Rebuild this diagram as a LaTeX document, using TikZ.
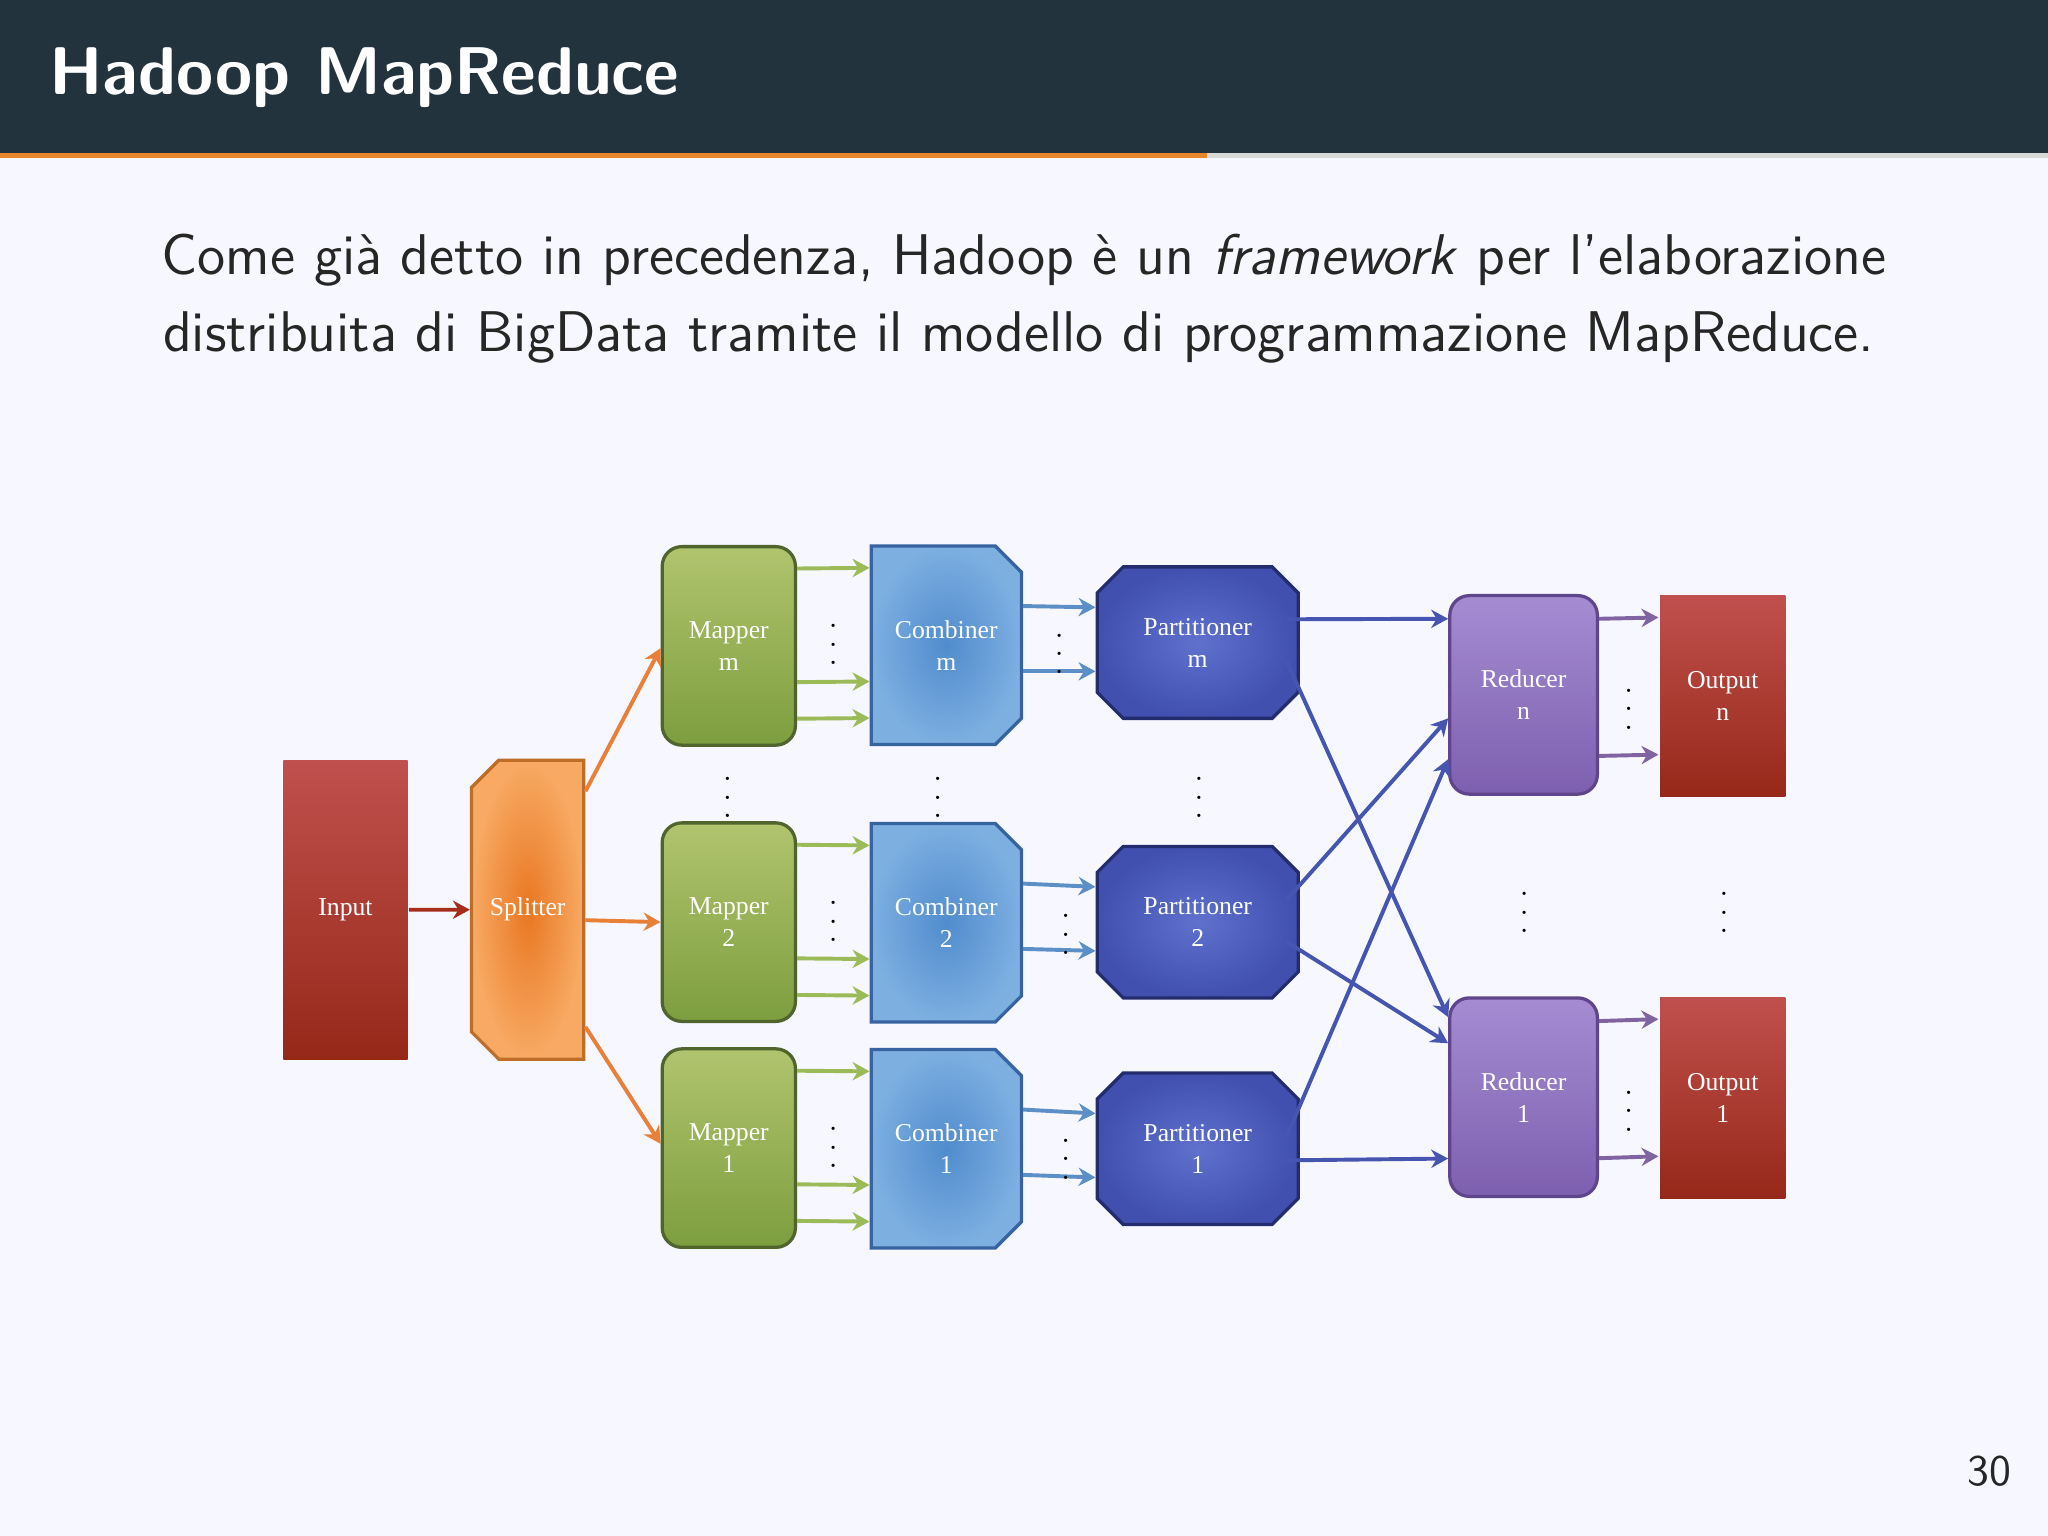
\documentclass[tikz,border=0pt]{standalone}
\usepackage{fontspec}
\newfontfamily\boxfont{Liberation Serif}
\usetikzlibrary{arrows.meta,shapes.misc,calc}
\definecolor{barc}{HTML}{23333D}
\definecolor{orng}{HTML}{E8862A}
\begin{document}
\begin{tikzpicture}[x=0.1mm,y=-0.1mm,
 box/.style={draw,line width=0.25mm,inner sep=0pt,text=white,align=center,font=\boxfont\fontsize{5.6}{7}\selectfont},
 inp/.style={box,draw=none,minimum width=9.5mm,minimum height=22.9mm,top color={rgb,255:red,192;green,80;blue,77},bottom color={rgb,255:red,150;green,40;blue,25}},
 spl/.style={box,draw={rgb,255:red,190;green,110;blue,40},chamfered rectangle,chamfered rectangle corners={north west,south west},chamfered rectangle xsep=1.2mm,chamfered rectangle ysep=1.2mm,minimum width=8.6mm,minimum height=22.9mm,inner color={rgb,255:red,232;green,119;blue,34},outer color={rgb,255:red,248;green,170;blue,100}},
 mapb/.style={box,draw={rgb,255:red,80;green,100;blue,45},rounded corners=1.5mm,minimum width=10.2mm,minimum height=15.2mm,top color={rgb,255:red,176;green,196;blue,110},bottom color={rgb,255:red,125;green,158;blue,62}},
 comb/.style={box,draw={rgb,255:red,55;green,100;blue,160},chamfered rectangle,chamfered rectangle corners={north east,south east},chamfered rectangle xsep=1mm,chamfered rectangle ysep=1mm,minimum width=11.5mm,minimum height=15.2mm,inner color={rgb,255:red,80;green,140;blue,205},outer color={rgb,255:red,125;green,175;blue,225}},
 part/.style={box,draw={rgb,255:red,35;green,45;blue,110},chamfered rectangle,chamfered rectangle xsep=1mm,chamfered rectangle ysep=1mm,minimum width=15.4mm,minimum height=11.6mm,inner color={rgb,255:red,95;green,112;blue,205},outer color={rgb,255:red,65;green,80;blue,175}},
 redb/.style={box,draw={rgb,255:red,95;green,70;blue,140},rounded corners=1.5mm,minimum width=11.3mm,minimum height=15.2mm,top color={rgb,255:red,165;green,140;blue,210},bottom color={rgb,255:red,125;green,95;blue,175}},
 outb/.style={box,draw=none,minimum width=9.6mm,minimum height=15.4mm,top color={rgb,255:red,192;green,80;blue,77},bottom color={rgb,255:red,150;green,40;blue,25}},
 ar/.style={line width=0.3mm,-{Stealth[length=1.3mm,width=1.4mm]}},
 garr/.style={ar,draw={rgb,255:red,155;green,187;blue,89}},
 barr/.style={ar,draw={rgb,255:red,91;green,143;blue,198}},
 parr/.style={ar,draw={rgb,255:red,70;green,86;blue,176}},
 varr/.style={ar,draw={rgb,255:red,128;green,100;blue,162}},
 oarr/.style={ar,draw={rgb,255:red,232;green,128;blue,58}},
 dts/.style={font=\fontsize{6}{6}\selectfont,inner sep=0pt}]
\useasboundingbox (0,0) rectangle (1568,1176);
\fill[white!97!blue] (0,0) rectangle (1568,1176);
\fill[barc] (0,0) rectangle (1568,117);
\fill[orng] (0,117) rectangle (924,121);
\fill[black!15] (924,117) rectangle (1568,121);
\node[anchor=base west,text=white,font=\sffamily\bfseries\fontsize{14.7}{17}\selectfont,inner sep=0pt] (title) at (37,72) {Hadoop MapReduce};
\node[anchor=base,font=\sffamily\fontsize{12.5}{15}\selectfont,inner sep=0pt,text=black!85] (l1) at (784,210) {Come già detto in precedenza, Hadoop è un \textit{framework} per l’elaborazione};
\node[anchor=base,font=\sffamily\fontsize{12.5}{15}\selectfont,inner sep=0pt,text=black!85] (l2) at (780,269) {distribuita di BigData tramite il modello di programmazione MapReduce.};
\node[anchor=base,font=\sffamily\fontsize{9.5}{11}\selectfont,inner sep=0pt,text=black!85] (pg) at (1523,1137) {30};

\node[inp] (in) at (264.5,696.5) {Input};
\node[spl] (sp) at (404,696.5) {Splitter};
\node[mapb] (mm) at (558,494.5) {Mapper\\m};
\node[mapb] (m2) at (558,706) {Mapper\\2};
\node[mapb] (m1) at (558,879) {Mapper\\1};
\node[comb] (cm) at (724.5,494) {Combiner\\m};
\node[comb] (c2) at (724.5,706.5) {Combiner\\2};
\node[comb] (c1) at (724.5,879.5) {Combiner\\1};
\node[part] (pm) at (917,492) {Partitioner\\m};
\node[part] (p2) at (917,706) {Partitioner\\2};
\node[part] (p1) at (917,879.5) {Partitioner\\1};
\node[redb] (rn) at (1166.5,532) {Reducer\\n};
\node[redb] (r1) at (1166.5,840) {Reducer\\1};
\node[outb] (on) at (1319,533) {Output\\n};
\node[outb] (o1) at (1319,840.5) {Output\\1};

\draw[ar,draw={rgb,255:red,165;green,45;blue,25}] (in) -- (sp);
\draw[oarr] ($(sp.north east)+(0,25)$) -- ($(mm.north west)+(0,79)$);
\draw[oarr] ($(sp.east)+(0,8)$) -- (m2.west);
\draw[oarr] ($(sp.south east)+(0,-26)$) -- ($(m1.north west)+(0,74)$);
\foreach \a/\b in {mm/cm,m2/c2,m1/c1}{
 \foreach \o in {18,105,133}{\draw[garr] ($(\a.north east)+(0,\o)$) -- ($(\b.north west)+(0,\o)$);}
 \node[dts] at ($(\a.north east)!0.5!(\b.north west)+(0,66)$) {$\vdots$};
}
\foreach \a/\b in {cm/pm,c2/p2,c1/p1}{
 \draw[barr] ($(\a.east)+(0,-30)$) -- ($(\b.west)+(0,-27)$);
 \draw[barr] ($(\a.east)+(0,20)$) -- ($(\b.west)+(0,22)$);
}
\node[dts] at (811,490) {$\vdots$};
\node[dts] at (816,705) {$\vdots$};
\node[dts] at (816,877) {$\vdots$};
\draw[parr] ($(pm.north east)+(0,31)$) -- ($(rn.north west)+(0,19)$);
\draw[parr] ($(pm.south east)+(0,-35)$) -- ($(r1.north west)+(0,16)$);
\draw[parr] ($(p2.north east)+(0,32)$) -- ($(rn.west)+(0,18)$);
\draw[parr] ($(p2.south east)+(0,-34)$) -- ($(r1.north west)+(0,36)$);
\draw[parr] ($(p1.north east)+(0,40)$) -- ($(rn.south west)+(0,-28)$);
\draw[parr] ($(p1.south east)+(0,-40)$) -- ($(r1.west)+(0,47)$);
\foreach \a/\b in {rn/on,r1/o1}{
 \draw[varr] ($(\a.north east)+(0,19)$) -- ($(\b.north west)+(0,18)$);
 \draw[varr] ($(\a.north east)+(0,124)$) -- ($(\b.north west)+(0,123)$);
 \node[dts] at ($(\a.east)!0.5!(\b.west)$) {$\vdots$};
}
\node[dts] (d1) at (557,600) {$\vdots$};
\node[dts] (d2) at (718,600) {$\vdots$};
\node[dts] (d3) at (918,600) {$\vdots$};
\node[dts] (d4) at (1167,688) {$\vdots$};
\node[dts] (d5) at (1320,688) {$\vdots$};
\end{tikzpicture}
\end{document}
